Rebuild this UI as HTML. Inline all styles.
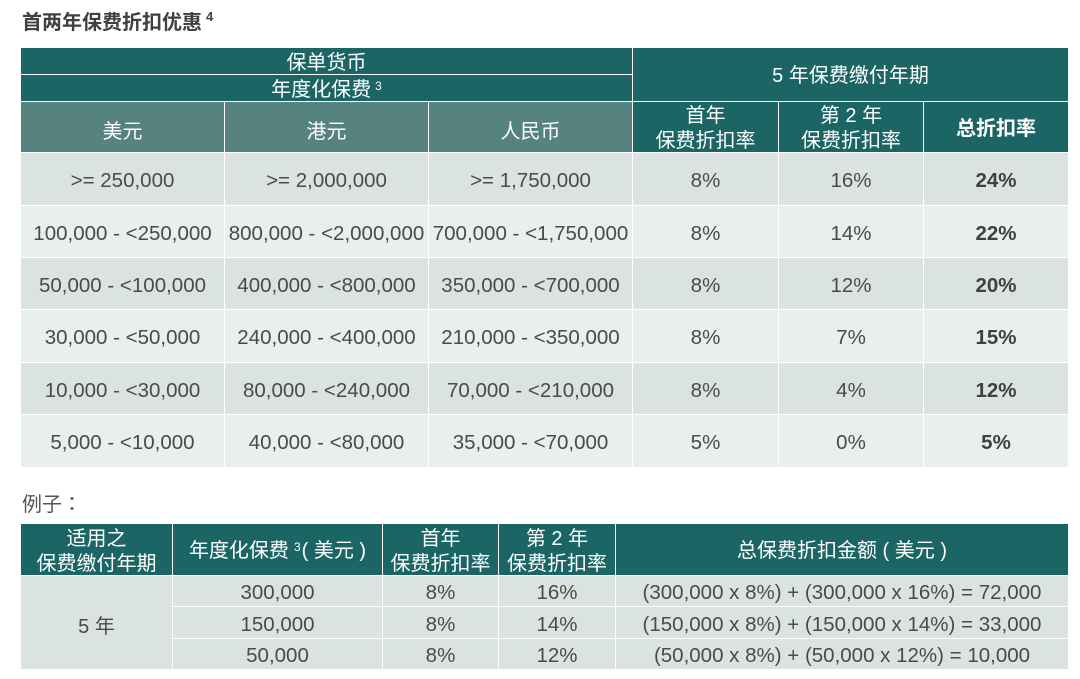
<!DOCTYPE html>
<html><head><meta charset="utf-8">
<style>
*{margin:0;padding:0;box-sizing:border-box}
html,body{width:1080px;height:679px;background:#fff;overflow:hidden}
body{position:relative;font-family:"Liberation Sans","Noto Sans CJK SC",sans-serif;color:#4a4a4a}
.c{position:absolute;display:flex;align-items:center;justify-content:center;text-align:center;white-space:nowrap;padding-top:4px}
.d{background:#1b6665;color:#fff;font-size:20px;line-height:25px}
.m{background:#568280;color:#fff;font-size:20px}
.g{background:#dbe3e2;font-size:20.5px}
.l{background:#e9eeee;font-size:20.5px}
.b{font-weight:bold;color:#404040}
sup{font-size:12px;line-height:12px;vertical-align:top;position:relative;top:2px;margin-left:4px}
.t{position:absolute;white-space:nowrap}
</style></head><body>
<div class="t" style="left:22px;top:10px;font-size:20px;font-weight:bold;color:#404040;line-height:26px">首两年保费折扣优惠<sup style="top:1px;font-size:13px">4</sup></div>

<div class="c d" style="left:21px;top:48px;width:611px;height:26px">保单货币</div>
<div class="c d" style="left:21px;top:75px;width:611px;height:26px"><span>年度化保费<sup>3</sup></span></div>
<div class="c d" style="left:633px;top:48px;width:435px;height:53px">5 年保费缴付年期</div>

<div class="c m" style="left:21px;top:102px;width:203px;height:50px">美元</div>
<div class="c m" style="left:225px;top:102px;width:203px;height:50px">港元</div>
<div class="c m" style="left:429px;top:102px;width:203px;height:50px">人民币</div>
<div class="c d" style="left:633px;top:102px;width:145px;height:50px">首年<br>保费折扣率</div>
<div class="c d" style="left:779px;top:102px;width:144px;height:50px">第 2 年<br>保费折扣率</div>
<div class="c d" style="left:924px;top:102px;width:144px;height:50px;font-weight:bold">总折扣率</div>

<!-- row 1 -->
<div class="c g" style="left:21px;top:153px;width:203px;height:52px">&gt;= 250,000</div>
<div class="c g" style="left:225px;top:153px;width:203px;height:52px">&gt;= 2,000,000</div>
<div class="c g" style="left:429px;top:153px;width:203px;height:52px">&gt;= 1,750,000</div>
<div class="c g" style="left:633px;top:153px;width:145px;height:52px">8%</div>
<div class="c g" style="left:779px;top:153px;width:144px;height:52px">16%</div>
<div class="c g b" style="left:924px;top:153px;width:144px;height:52px">24%</div>
<!-- row 2 -->
<div class="c l" style="left:21px;top:206px;width:203px;height:51px">100,000 - &lt;250,000</div>
<div class="c l" style="left:225px;top:206px;width:203px;height:51px">800,000 - &lt;2,000,000</div>
<div class="c l" style="left:429px;top:206px;width:203px;height:51px">700,000 - &lt;1,750,000</div>
<div class="c l" style="left:633px;top:206px;width:145px;height:51px">8%</div>
<div class="c l" style="left:779px;top:206px;width:144px;height:51px">14%</div>
<div class="c l b" style="left:924px;top:206px;width:144px;height:51px">22%</div>
<!-- row 3 -->
<div class="c g" style="left:21px;top:258px;width:203px;height:51px">50,000 - &lt;100,000</div>
<div class="c g" style="left:225px;top:258px;width:203px;height:51px">400,000 - &lt;800,000</div>
<div class="c g" style="left:429px;top:258px;width:203px;height:51px">350,000 - &lt;700,000</div>
<div class="c g" style="left:633px;top:258px;width:145px;height:51px">8%</div>
<div class="c g" style="left:779px;top:258px;width:144px;height:51px">12%</div>
<div class="c g b" style="left:924px;top:258px;width:144px;height:51px">20%</div>
<!-- row 4 -->
<div class="c l" style="left:21px;top:310px;width:203px;height:52px">30,000 - &lt;50,000</div>
<div class="c l" style="left:225px;top:310px;width:203px;height:52px">240,000 - &lt;400,000</div>
<div class="c l" style="left:429px;top:310px;width:203px;height:52px">210,000 - &lt;350,000</div>
<div class="c l" style="left:633px;top:310px;width:145px;height:52px">8%</div>
<div class="c l" style="left:779px;top:310px;width:144px;height:52px">7%</div>
<div class="c l b" style="left:924px;top:310px;width:144px;height:52px">15%</div>
<!-- row 5 -->
<div class="c g" style="left:21px;top:363px;width:203px;height:51px">10,000 - &lt;30,000</div>
<div class="c g" style="left:225px;top:363px;width:203px;height:51px">80,000 - &lt;240,000</div>
<div class="c g" style="left:429px;top:363px;width:203px;height:51px">70,000 - &lt;210,000</div>
<div class="c g" style="left:633px;top:363px;width:145px;height:51px">8%</div>
<div class="c g" style="left:779px;top:363px;width:144px;height:51px">4%</div>
<div class="c g b" style="left:924px;top:363px;width:144px;height:51px">12%</div>
<!-- row 6 -->
<div class="c l" style="left:21px;top:415px;width:203px;height:52px">5,000 - &lt;10,000</div>
<div class="c l" style="left:225px;top:415px;width:203px;height:52px">40,000 - &lt;80,000</div>
<div class="c l" style="left:429px;top:415px;width:203px;height:52px">35,000 - &lt;70,000</div>
<div class="c l" style="left:633px;top:415px;width:145px;height:52px">5%</div>
<div class="c l" style="left:779px;top:415px;width:144px;height:52px">0%</div>
<div class="c l b" style="left:924px;top:415px;width:144px;height:52px">5%</div>

<div class="t" style="left:22px;top:490px;font-size:20px;color:#555;line-height:26px">例子<span style="font-family:'Noto Sans CJK TC',sans-serif">：</span></div>

<div class="c d" style="left:21px;top:524px;width:151px;height:51px">适用之<br>保费缴付年期</div>
<div class="c d" style="left:173px;top:524px;width:209px;height:51px"><span>年度化保费<sup style="margin-left:5px;margin-right:1px">3</sup>( 美元 )</span></div>
<div class="c d" style="left:383px;top:524px;width:115px;height:51px">首年<br>保费折扣率</div>
<div class="c d" style="left:499px;top:524px;width:116px;height:51px">第 2 年<br>保费折扣率</div>
<div class="c d" style="left:616px;top:524px;width:452px;height:51px">总保费折扣金额 ( 美元 )</div>

<div class="c g" style="left:21px;top:576px;width:151px;height:93px;font-size:20px">5 年</div>
<div class="c g" style="left:173px;top:576px;width:209px;height:30px">300,000</div>
<div class="c g" style="left:383px;top:576px;width:115px;height:30px">8%</div>
<div class="c g" style="left:499px;top:576px;width:116px;height:30px">16%</div>
<div class="c g" style="left:616px;top:576px;width:452px;height:30px">(300,000 x 8%) + (300,000 x 16%) = 72,000</div>

<div class="c g" style="left:173px;top:607px;width:209px;height:31px">150,000</div>
<div class="c g" style="left:383px;top:607px;width:115px;height:31px">8%</div>
<div class="c g" style="left:499px;top:607px;width:116px;height:31px">14%</div>
<div class="c g" style="left:616px;top:607px;width:452px;height:31px">(150,000 x 8%) + (150,000 x 14%) = 33,000</div>

<div class="c g" style="left:173px;top:639px;width:209px;height:30px">50,000</div>
<div class="c g" style="left:383px;top:639px;width:115px;height:30px">8%</div>
<div class="c g" style="left:499px;top:639px;width:116px;height:30px">12%</div>
<div class="c g" style="left:616px;top:639px;width:452px;height:30px">(50,000 x 8%) + (50,000 x 12%) = 10,000</div>
</body></html>
